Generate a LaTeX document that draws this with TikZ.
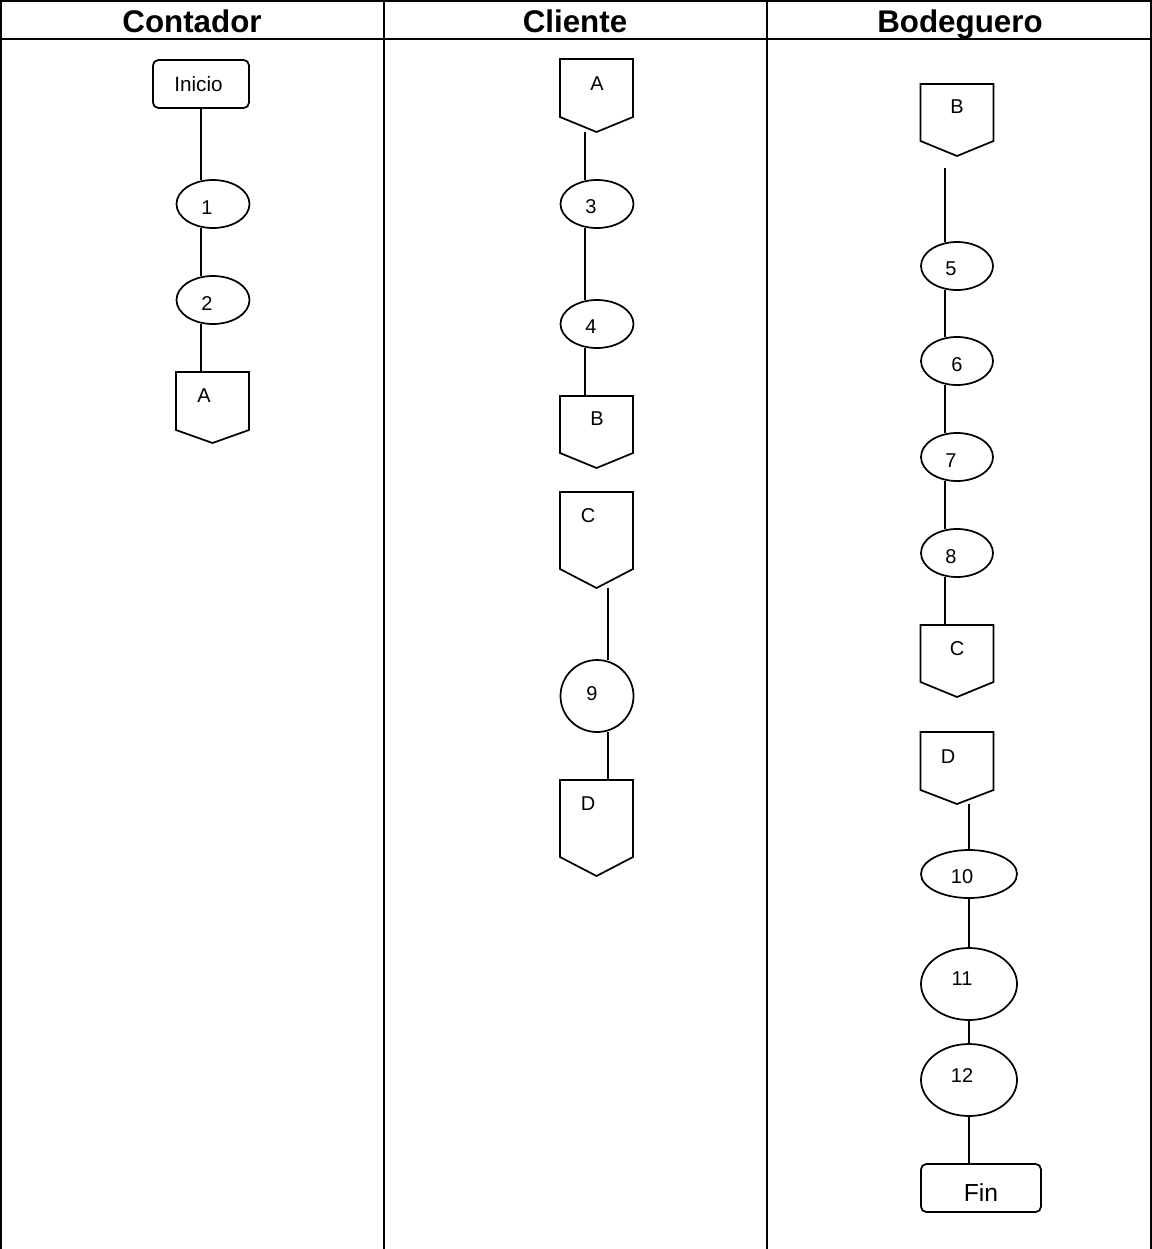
\documentclass[tikz,border=0pt]{standalone}
\usepackage{fontspec}
\setmainfont{Liberation Sans}
\usetikzlibrary{shapes.geometric}
\newdimen\px \px=0.75pt
\tikzset{
  grid/.style={line width=1.6pt},
  hdr/.style={font=\bfseries\fontsize{23.5pt}{28pt}\selectfont, anchor=base, inner sep=0},
  lbl/.style={font=\fontsize{15pt}{18pt}\selectfont, anchor=base, inner sep=0},
  term/.style={draw, rounded corners=4pt, line width=1.3pt, inner sep=0, outer sep=0, font=\fontsize{15.5pt}{18pt}\selectfont},
  proc/.style={draw, ellipse, line width=1.3pt, inner sep=0, outer sep=0},
  opg/.style={rectangle, inner sep=0, outer sep=0, minimum width=73\px},
  flow/.style={line width=1.3pt}
}
% off-page connector: name, cx, top, point, drop
\newcommand\offpg[5]{%
  \node[opg, minimum height={(#4-#3)*\px}] (#1) at (#2,{(#3+#4)/2}) {};
  \draw[flow] (#1.north west) -- (#1.north east) -- ([yshift=#5\px]#1.south east)
     -- (#1.south) -- ([yshift=#5\px]#1.south west) -- cycle;
}
\begin{document}
\begin{tikzpicture}[x=0.75pt,y=-0.75pt]
\useasboundingbox (0,0) rectangle (1152,1249);
% table
\draw[grid] (0,1) -- (1152,1);
\draw[grid] (0,39) -- (1152,39);
\draw[grid] (1,0) -- (1,1249);
\draw[grid] (384,0) -- (384,1249);
\draw[grid] (767,0) -- (767,1249);
\draw[grid] (1151,0) -- (1151,1249);
\node[hdr] (h1) at (192,32) {Contador};
\node[hdr] (h2) at (575,32) {Cliente};
\node[hdr] (h3) at (960,32) {Bodeguero};

% ---------------- Contador
\node[term, minimum width=96\px, minimum height=48\px] (ini) at (201,84) {};
\node[lbl, font=\fontsize{15.5pt}{18pt}\selectfont] (tini) at (198.5,91) {Inicio};
\node[proc, minimum width=73\px, minimum height=48\px] (e1) at (213,204) {};
\node[lbl] (t1) at (207,214) {1};
\node[proc, minimum width=73\px, minimum height=48\px] (e2) at (213,300) {};
\node[lbl] (t2) at (207,310) {2};
\offpg{cA}{212.5}{372}{443}{13}
\node[lbl] (tcA) at (204,402) {A};
\draw[flow] (ini.south) -- ([xshift=-12\px]e1.north);
\draw[flow] ([xshift=-12\px]e1.south) -- ([xshift=-12\px]e2.north);
\draw[flow] ([xshift=-12\px]e2.south) -- ([xshift=-11.5\px]cA.north);

% ---------------- Cliente
\offpg{lA}{596.5}{59}{132}{15}
\node[lbl] (tlA) at (597,90) {A};
\node[proc, minimum width=73\px, minimum height=48\px] (e3) at (597,204) {};
\node[lbl] (t3) at (591,213) {3};
\node[proc, minimum width=73\px, minimum height=48\px] (e4) at (597,324) {};
\node[lbl] (t4) at (591,333) {4};
\offpg{lB}{596.5}{396}{468}{15}
\node[lbl] (tlB) at (597,425) {B};
\offpg{lC}{596.5}{492}{588}{19}
\node[lbl] (tlC) at (588,522) {C};
\node[proc, minimum width=73\px, minimum height=72\px] (e9) at (597,696) {};
\node[lbl] (t9) at (592,700) {9};
\offpg{lD}{596.5}{780}{876}{19}
\node[lbl] (tlD) at (588,810) {D};
\draw[flow] ([xshift=-11.5\px]lA.south) -- ([xshift=-12\px]e3.north);
\draw[flow] ([xshift=-12\px]e3.south) -- ([xshift=-12\px]e4.north);
\draw[flow] ([xshift=-12\px]e4.south) -- ([xshift=-11.5\px]lB.north);
\draw[flow] ([xshift=11.5\px]lC.south) -- ([xshift=11\px]e9.north);
\draw[flow] ([xshift=11\px]e9.south) -- ([xshift=11.5\px]lD.north);

% ---------------- Bodeguero
\offpg{bB}{957}{84}{156}{15}
\node[lbl] (tbB) at (957,113) {B};
\node[proc, minimum width=72\px, minimum height=48\px] (e5) at (957,266) {};
\node[lbl] (t5) at (951,275) {5};
\node[proc, minimum width=72\px, minimum height=48\px] (e6) at (957,361) {};
\node[lbl] (t6) at (957,371) {6};
\node[proc, minimum width=72\px, minimum height=48\px] (e7) at (957,457) {};
\node[lbl] (t7) at (951,467) {7};
\node[proc, minimum width=72\px, minimum height=48\px] (e8) at (957,553) {};
\node[lbl] (t8) at (951,563) {8};
\offpg{bC}{957}{625}{697}{15}
\node[lbl] (tbC) at (957,655) {C};
\offpg{bD}{957}{732}{804}{14}
\node[lbl] (tbD) at (948,763) {D};
\node[proc, minimum width=96\px, minimum height=48\px] (e10) at (969,874) {};
\node[lbl] (t10) at (962,883) {10};
\node[proc, minimum width=96\px, minimum height=72\px] (e11) at (969,984) {};
\node[lbl] (t11) at (962,985) {11};
\node[proc, minimum width=96\px, minimum height=72\px] (e12) at (969,1080) {};
\node[lbl] (t12) at (962,1082) {12};
\node[term, minimum width=120\px, minimum height=48\px] (fin) at (981,1188) {};
\node[lbl, font=\fontsize{18.5pt}{22pt}\selectfont] (tfin) at (981,1201) {Fin};
\draw[flow] ([xshift=-12\px,yshift=-12\px]bB.south) -- ([xshift=-12\px]e5.north);
\draw[flow] ([xshift=-12\px]e5.south) -- ([xshift=-12\px]e6.north);
\draw[flow] ([xshift=-12\px]e6.south) -- ([xshift=-12\px]e7.north);
\draw[flow] ([xshift=-12\px]e7.south) -- ([xshift=-12\px]e8.north);
\draw[flow] ([xshift=-12\px]e8.south) -- ([xshift=-12\px]bC.north);
\draw[flow] ([xshift=12\px]bD.south) -- (e10.north);
\draw[flow] (e10.south) -- (e11.north);
\draw[flow] (e11.south) -- (e12.north);
\draw[flow] (e12.south) -- ([xshift=-12\px]fin.north);
\end{tikzpicture}
\end{document}
